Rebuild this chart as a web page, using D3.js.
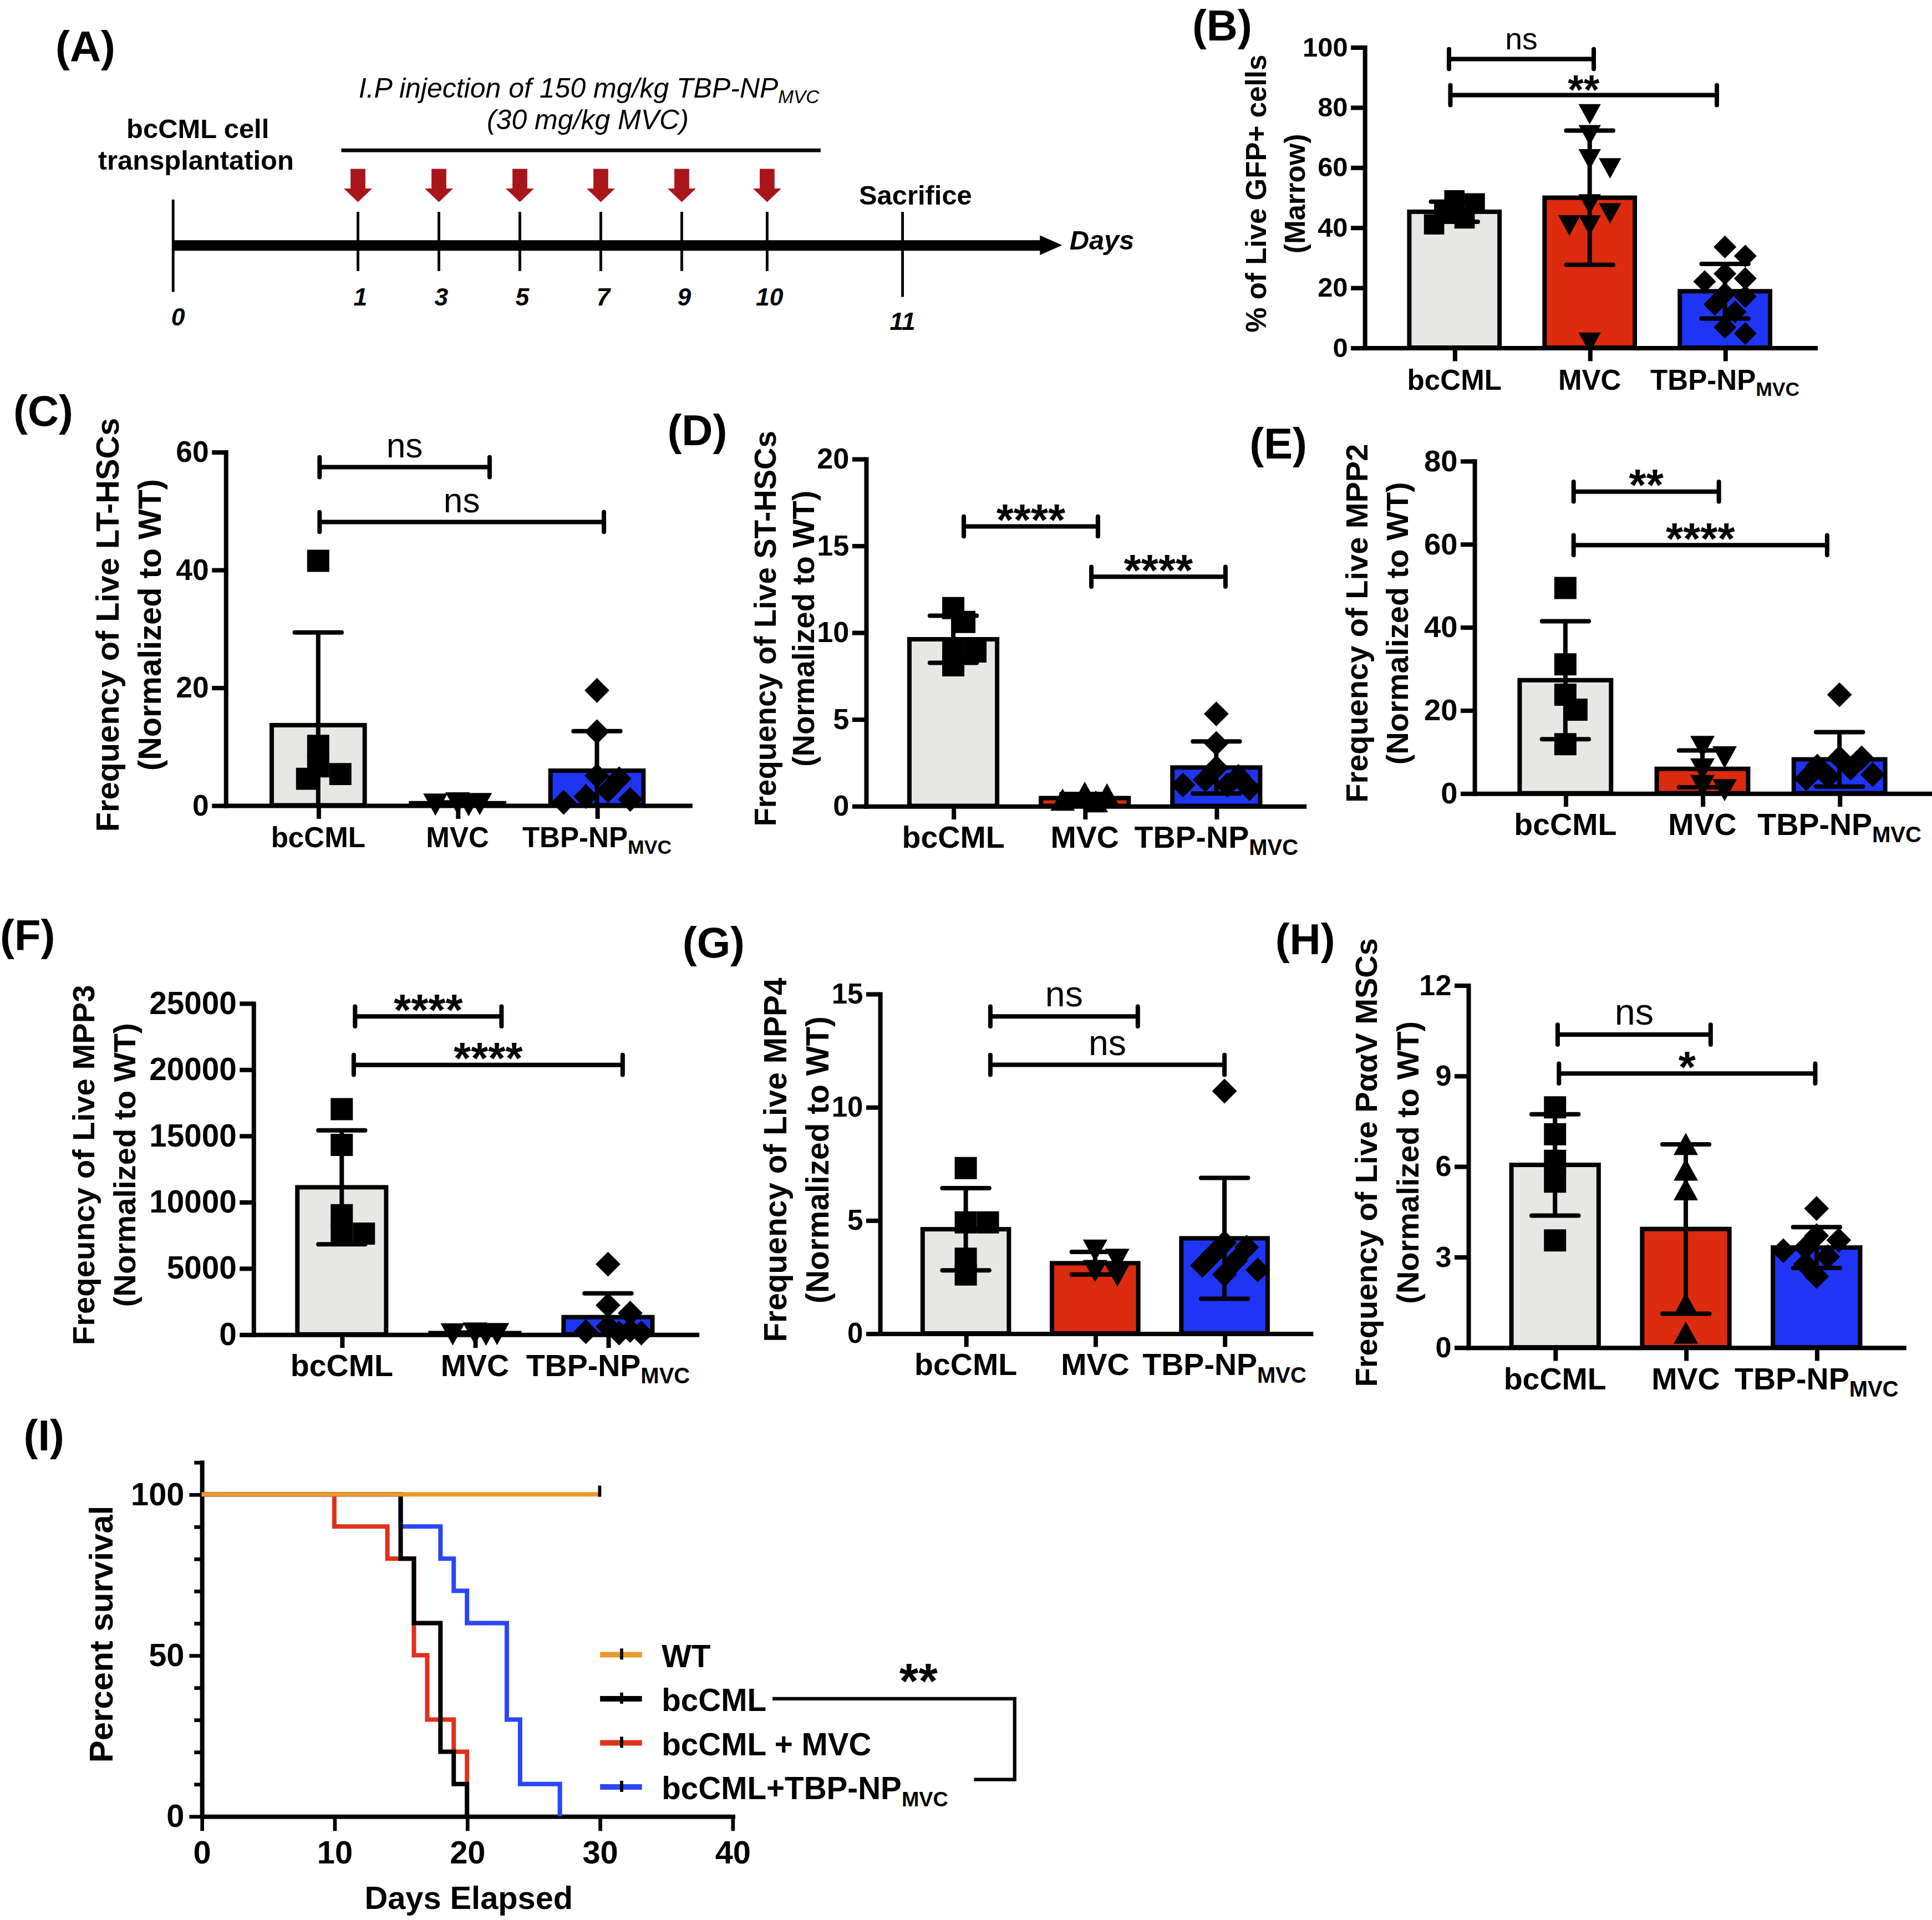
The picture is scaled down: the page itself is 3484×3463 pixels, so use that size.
<!DOCTYPE html>
<html>
<head>
<meta charset="utf-8">
<script src="https://d3js.org/d3.v7.min.js"></script>
<style>
  body { margin: 0; background: #fff; }
  svg text { font-family: "Liberation Sans", Arial, Helvetica, sans-serif; }
</style>
</head>
<body>
<svg id="fig"></svg>
<script>
'use strict';

// ---------- data ----------
var groups = ['bcCML', 'MVC', 'TBP-NP'];

var gfpMarrow = [[49, 48, 45, 43, 41], [78, 71, 63, 60, 48, 45, 41, 41, 2], [33.5, 30.5, 24.6, 23, 22, 18, 17, 14.4, 11.9, 6.8, 4.7]];
var ltHsc = [[41.5, 10.1, 6.6, 5.3, 4.5], [0.5, 0.3, 0.4, 0.2], [19.5, 12.5, 5, 4.5, 2.5, 1.5, 1, 0.5]];
var stHsc = [[11.4, 10.6, 9.0, 8.9, 8.1], [0.7, 0.6, 0.3, 0.2], [5.3, 3.6, 2.2, 1.7, 1.5, 1.2, 1.2, 1.0]];
var mpp2 = [[49.4, 31, 23.7, 20.1, 11.8], [11.4, 8.9, 6, 2, 1], [23.7, 8.5, 8.5, 6.5, 6, 4.5, 4, 3.5]];
var mpp3 = [[17000, 14300, 9000, 7600, 7600], [150, 100, 80, 50], [5300, 2200, 1600, 600, 300, 200, 100, 100]];
var mpp4 = [[7.3, 4.9, 4.9, 3.3, 2.6], [3.7, 3.3, 2.8, 2.6], [10.7, 4, 3.8, 3.5, 3.2, 3, 2.8, 2.6]];
var pavMsc = [[7.95, 7.06, 6.18, 5.49, 3.54], [6.7, 5.85, 5.2, 1.4, 0.45], [4.6, 3.7, 3.55, 3.3, 3.2, 3.0, 2.75, 2.35]];

var gfpTicks = [0, 20, 40, 60, 80, 100];
var ltTicks = [0, 20, 40, 60];
var stTicks = [0, 5, 10, 15, 20];
var mpp2Ticks = [0, 20, 40, 60, 80];
var mpp3Ticks = [0, 5000, 10000, 15000, 20000, 25000];
var mpp4Ticks = [0, 5, 10, 15];
var pavTicks = [0, 3, 6, 9, 12];

// significance brackets: group positions (index units) and height (data units)
var gfpSig = [{from: -0.04, to: 1.03, at: 96, label: 'ns'}, {from: -0.03, to: 1.94, at: 84, label: '**'}];
var ltSig = [{from: 0.01, to: 1.23, at: 57.4, label: 'ns'}, {from: 0.01, to: 2.05, at: 48.1, label: 'ns'}];
var stSig = [{from: 0.08, to: 1.1, at: 16.1, label: '****'}, {from: 1.05, to: 2.07, at: 13.2, label: '****'}];
var mpp2Sig = [{from: 0.06, to: 1.12, at: 72.6, label: '**'}, {from: 0.06, to: 1.91, at: 59.7, label: '****'}];
var mpp3Sig = [{from: 0.1, to: 1.2, at: 24000, label: '****'}, {from: 0.09, to: 2.11, at: 20340, label: '****'}];
var mpp4Sig = [{from: 0.19, to: 1.33, at: 14.0, label: 'ns'}, {from: 0.19, to: 2.0, at: 11.86, label: 'ns'}];
var pavSig = [{from: 0.02, to: 1.19, at: 10.36, label: 'ns'}, {from: 0.03, to: 1.99, at: 9.07, label: '*'}];

// survival (Kaplan-Meier steps)
var survGroups = ['WT', 'bcCML', 'bcCML + MVC', 'bcCML+TBP-NP'];
var wtDays = [0, 30], wtPct = [100, 100];
var bcDays = [0, 15, 16, 18, 19, 20], bcPct = [100, 80, 60, 20, 10, 0];
var mvcDays = [0, 10, 14, 16, 17, 19, 20], mvcPct = [100, 90, 80, 50, 30, 20, 0];
var tbpDays = [0, 15, 18, 19, 20, 23, 24, 27], tbpPct = [100, 90, 80, 70, 60, 30, 10, 0];
var survXTicks = [0, 10, 20, 30, 40];
var survYTicks = [0, 10, 20, 30, 40, 50, 60, 70, 80, 90, 100, 110];
var survYLabels = [0, 50, 100];

// timeline
var timelineDays = [0, 1, 3, 5, 7, 9, 10, 11];
var injectionDays = [1, 3, 5, 7, 9, 10];

// ---------- styles ----------
var barFill = ['#e7e7e5', '#dc2b0e', '#1f35f5'];
var survColor = ['#e99a2c', '#000000', '#e0311c', '#2b46f7'];
var arrowRed = '#a8161b';
var LW = 3.6;

var svg = d3.select('#fig')
    .attr('width', 3484)
    .attr('height', 3463)
    .attr('viewBox', '0 0 1568 1558.6');

function panelLabel(txt, x, y) {
  svg.append('text').attr('x', x).attr('y', y)
      .style('font-size', '35px').style('font-weight', 'bold')
      .text('(' + txt + ')');
}

function groupLabel(sel, name, subSize) {
  if (name === 'TBP-NP' || name === 'bcCML+TBP-NP') {
    sel.append('tspan').text(name);
    sel.append('tspan').attr('dy', '0.33em').style('font-size', subSize + 'px').text('MVC');
  } else {
    sel.text(name);
  }
}

function markerPath(kind, s) {
  var h = s / 2;
  if (kind === 'square') return 'M' + (-h) + ',' + (-h) + 'h' + s + 'v' + s + 'h' + (-s) + 'Z';
  if (kind === 'down') return 'M' + (-s * 0.55) + ',' + (-s * 0.45) + 'L' + (s * 0.55) + ',' + (-s * 0.45) + 'L0,' + (s * 0.55) + 'Z';
  if (kind === 'up') return 'M' + (-s * 0.55) + ',' + (s * 0.45) + 'L' + (s * 0.55) + ',' + (s * 0.45) + 'L0,' + (-s * 0.55) + 'Z';
  return 'M0,' + (-s * 0.56) + 'L' + (s * 0.56) + ',0L0,' + (s * 0.56) + 'L' + (-s * 0.56) + ',0Z';
}

// spread points sideways like a scatter-dot plot, kept inside the bar
function swarm(vals, y, cx, size, maxOff) {
  var order = vals.slice().sort(function(a, b) { return b - a; });
  var cands = [0];
  for (var k = 1; k * size * 0.5 <= maxOff; k++) cands.push(k * size * 0.5, -k * size * 0.5);
  var placed = [];
  order.forEach(function(v) {
    var py = y(v), best = null, bestD = -1;
    for (var i = 0; i < cands.length; i++) {
      var ox = cx + cands[i];
      var dmin = d3.min(placed, function(p) { return Math.hypot(p.x - ox, p.y - py); });
      if (dmin === undefined) dmin = Infinity;
      if (dmin >= size * 0.7) { best = ox; break; }
      if (dmin > bestD) { bestD = dmin; best = ox; }
    }
    placed.push({x: best, y: py});
  });
  return placed;
}

function drawBars(p) {
  var g = svg.append('g');
  var x = d3.scalePoint().domain(groups).range([p.x0, p.x1]).padding(0.665);
  var y = d3.scaleLinear().domain([0, p.ticks[p.ticks.length - 1]]).range([p.yBot, p.yTop]);
  var step = x.step(), bw = step * 0.667;

  var stats = p.values.map(function(v, i) {
    return {name: groups[i], mean: d3.mean(v), sd: d3.deviation(v), vals: v, i: i};
  });

  g.selectAll('rect.bar').data(stats).enter().append('rect')
      .attr('x', function(d) { return x(d.name) - bw / 2; })
      .attr('y', function(d) { return y(d.mean); })
      .attr('width', bw)
      .attr('height', function(d) { return y(0) - y(d.mean); })
      .attr('fill', function(d) { return barFill[d.i]; })
      .attr('stroke', '#000').attr('stroke-width', LW);

  // axes
  var ya = g.append('g').attr('transform', 'translate(' + p.x0 + ',0)')
      .call(d3.axisLeft(y).tickValues(p.ticks).tickSize(11).tickSizeOuter(0).tickPadding(2.5)
          .tickFormat(d3.format('d')));
  ya.attr('font-size', null).attr('font-family', null);
  ya.selectAll('.tick text').style('font-size', p.tickFont + 'px').style('font-weight', 'bold');
  var xa = g.append('g').attr('transform', 'translate(0,' + p.yBot + ')')
      .call(d3.axisBottom(x).tickSize(11).tickSizeOuter(0).tickFormat(''));
  [ya, xa].forEach(function(a) {
    a.select('.domain').attr('stroke-width', LW).attr('stroke-linecap', 'square');
    a.selectAll('.tick line').attr('stroke-width', LW);
  });

  stats.forEach(function(d) {
    var cx = x(d.name);
    var lo = d.mean - d.sd, hi = d.mean + d.sd;
    g.append('line').attr('x1', cx).attr('x2', cx)
        .attr('y1', y(Math.max(lo, 0))).attr('y2', y(hi))
        .attr('stroke', '#000').attr('stroke-width', LW);
    g.append('line').attr('x1', cx - 19).attr('x2', cx + 19)
        .attr('y1', y(hi)).attr('y2', y(hi))
        .attr('stroke', '#000').attr('stroke-width', LW).attr('stroke-linecap', 'round');
    if (lo > 0) {
      g.append('line').attr('x1', cx - 19).attr('x2', cx + 19)
          .attr('y1', y(lo)).attr('y2', y(lo))
          .attr('stroke', '#000').attr('stroke-width', LW).attr('stroke-linecap', 'round');
    }
    g.selectAll(null).data(swarm(d.vals, y, cx, p.ms, bw / 2 - p.ms * 0.35)).enter().append('path')
        .attr('transform', function(q) { return 'translate(' + q.x + ',' + q.y + ')'; })
        .attr('d', markerPath(p.shapes[d.i], p.ms))
        .attr('fill', '#000');
  });

  // group labels
  groups.forEach(function(name) {
    var t = g.append('text').attr('x', x(name)).attr('y', p.yBot + 34)
        .attr('text-anchor', 'middle')
        .style('font-size', p.catFont + 'px').style('font-weight', 'bold');
    groupLabel(t, name, Math.round(p.catFont * 0.7));
  });

  // significance brackets
  var first = x(groups[0]);
  p.sig.forEach(function(s) {
    var xa0 = first + s.from * step, xb = first + s.to * step, yy = y(s.at);
    g.append('path')
        .attr('d', 'M' + xa0 + ',' + (yy - 8) + 'V' + (yy + 8) + 'M' + xa0 + ',' + yy + 'H' + xb +
            'M' + xb + ',' + (yy - 8) + 'V' + (yy + 8))
        .attr('fill', 'none').attr('stroke', '#000').attr('stroke-width', LW).attr('stroke-linecap', 'round');
    var isNs = s.label === 'ns';
    g.append('text').attr('x', (xa0 + xb) / 2).attr('y', isNs ? yy - 8 : yy + 7)
        .attr('text-anchor', 'middle')
        .style('font-size', (isNs ? p.nsFont : p.starFont) + 'px')
        .style('font-weight', isNs ? 'normal' : 'bold')
        .text(s.label);
  });

  // y title
  var ty = (p.yTop + p.yBot) / 2 - 3;
  p.title.forEach(function(line, i) {
    g.append('text')
        .attr('transform', 'translate(' + p.titleX[i] + ',' + ty + ') rotate(-90)')
        .attr('dy', '0.36em')
        .attr('text-anchor', 'middle')
        .style('font-size', p.titleFont + 'px').style('font-weight', 'bold')
        .text(line);
  });

  panelLabel(p.id, p.label[0], p.label[1]);
}

// ---------- panel layouts ----------
var norm = '(Normalized to WT)';
var barPanels = [
  {id: 'B', values: gfpMarrow, ticks: gfpTicks, sig: gfpSig, shapes: ['square', 'down', 'diamond'],
   x0: 1107.4, x1: 1473, yTop: 38.2, yBot: 282.2, title: ['% of Live GFP+ cells', '(Marrow)'],
   titleX: [1019.3, 1050.7], titleFont: 23, tickFont: 22, catFont: 23, nsFont: 25, starFont: 33, ms: 16.5,
   label: [967.6, 33]},
  {id: 'C', values: ltHsc, ticks: ltTicks, sig: ltSig, shapes: ['square', 'down', 'diamond'],
   x0: 183, x1: 559.7, yTop: 366.8, yBot: 653.7, title: ['Frequency of Live  LT-HSCs', norm],
   titleX: [87, 121], titleFont: 26, tickFont: 24, catFont: 23, nsFont: 28, starFont: 36, ms: 18,
   label: [10.8, 345.5]},
  {id: 'D', values: stHsc, ticks: stTicks, sig: stSig, shapes: ['square', 'up', 'diamond'],
   x0: 702.7, x1: 1058.1, yTop: 372.4, yBot: 654.2, title: ['Frequency of Live ST-HSCs', norm],
   titleX: [620.6, 651.8], titleFont: 24.6, tickFont: 23.5, catFont: 25, nsFont: 28, starFont: 36, ms: 18,
   label: [541.6, 361.4]},
  {id: 'E', values: mpp2, ticks: mpp2Ticks, sig: mpp2Sig, shapes: ['square', 'down', 'diamond'],
   x0: 1196.5, x1: 1566.9, yTop: 374.1, yBot: 643.9, title: ['Frequency of Live MPP2', norm],
   titleX: [1100.7, 1133.8], titleFont: 25.2, tickFont: 24.5, catFont: 25, nsFont: 28, starFont: 36, ms: 18,
   label: [1014.1, 372.4]},
  {id: 'F', values: mpp3, ticks: mpp3Ticks, sig: mpp3Sig, shapes: ['square', 'down', 'diamond'],
   x0: 205.5, x1: 565.3, yTop: 814.3, yBot: 1083.2, title: ['Freqeuncy of Live MPP3', norm],
   titleX: [67.2, 100.7], titleFont: 25.3, tickFont: 25.5, catFont: 25, nsFont: 28, starFont: 36, ms: 18,
   label: [0, 771.6]},
  {id: 'G', values: mpp4, ticks: mpp4Ticks, sig: mpp4Sig, shapes: ['square', 'down', 'diamond'],
   x0: 714, x1: 1063.6, yTop: 806.7, yBot: 1082.4, title: ['Frequency of Live MPP4', norm],
   titleX: [628.8, 663.2], titleFont: 25.6, tickFont: 23, catFont: 25, nsFont: 29, starFont: 36, ms: 18,
   label: [553.9, 777.2]},
  {id: 'H', values: pavMsc, ticks: pavTicks, sig: pavSig, shapes: ['square', 'up', 'diamond'],
   x0: 1191.5, x1: 1544.9, yTop: 799.7, yBot: 1093.7, title: ['Frequency of Live P\u03b1\u03b1V MSCs', norm],
   titleX: [1108.2, 1142.2], titleFont: 25.2, tickFont: 23.5, catFont: 25, nsFont: 30, starFont: 36, ms: 18,
   label: [1035, 774.4]}
];
barPanels.forEach(drawBars);

// ---------- panel A: timeline ----------
(function() {
  var g = svg.append('g');
  var dayX = d3.scaleLinear().domain([0, 1, 9, 10, 11]).range([140.5, 290.5, 553.3, 622.6, 732.5]);
  var x0 = dayX(0);

  g.append('path')
      .attr('d', 'M' + x0 + ',195H844V191L862,199L844,207V203.5H' + x0 + 'Z')
      .attr('fill', '#000');

  timelineDays.forEach(function(d) {
    var top = d === 0 ? 162 : 172;
    var bot = d === 0 ? 237 : (d === 11 ? 241 : 220);
    g.append('line').attr('x1', dayX(d)).attr('x2', dayX(d)).attr('y1', top).attr('y2', bot)
        .attr('stroke', '#000').attr('stroke-width', 2.2);
    g.append('text')
        .attr('x', dayX(d) + (d === 0 ? 4 : (d === 11 ? 0 : 2)))
        .attr('y', d === 0 ? 264 : (d === 11 ? 268 : 248))
        .attr('text-anchor', 'middle')
        .style('font-size', '20px').style('font-weight', 'bold').style('font-style', 'italic')
        .text(d);
  });

  injectionDays.forEach(function(d) {
    var cx = dayX(d);
    g.append('path')
        .attr('d', 'M' + (cx - 6) + ',137V153H' + (cx - 11.5) + 'L' + cx + ',164L' + (cx + 11.5) + ',153H' + (cx + 6) + 'V137Z')
        .attr('fill', arrowRed);
  });

  g.append('line').attr('x1', 277).attr('x2', 666).attr('y1', 122).attr('y2', 122)
      .attr('stroke', '#000').attr('stroke-width', 3);

  var t1 = g.append('text').attr('x', 478).attr('y', 79.3).attr('text-anchor', 'middle')
      .style('font-size', '22.5px').style('font-style', 'italic');
  t1.append('tspan').text('I.P injection of 150 mg/kg TBP-NP');
  t1.append('tspan').attr('dy', '0.3em').style('font-size', '15px').text('MVC');
  g.append('text').attr('x', 477).attr('y', 105).attr('text-anchor', 'middle')
      .style('font-size', '22.5px').style('font-style', 'italic').text('(30 mg/kg MVC)');

  g.append('text').attr('x', 160.5).attr('y', 112).attr('text-anchor', 'middle')
      .style('font-size', '22px').style('font-weight', 'bold').text('bcCML cell');
  g.append('text').attr('x', 159).attr('y', 137.7).attr('text-anchor', 'middle')
      .style('font-size', '22px').style('font-weight', 'bold').text('transplantation');
  g.append('text').attr('x', 743).attr('y', 166).attr('text-anchor', 'middle')
      .style('font-size', '22px').style('font-weight', 'bold').text('Sacrifice');
  g.append('text').attr('x', 868).attr('y', 202.5)
      .style('font-size', '22px').style('font-weight', 'bold').style('font-style', 'italic').text('Days');

  panelLabel('A', 45, 50);
})();

// ---------- panel I: survival ----------
(function() {
  var g = svg.append('g');
  var x = d3.scaleLinear().domain([0, 40]).range([163.6, 594.4]);
  var y = d3.scaleLinear().domain([0, 110]).range([1474.3, 1186.9]);

  var ya = g.append('g').attr('transform', 'translate(' + x(0) + ',0)')
      .call(d3.axisLeft(y).tickValues(survYTicks).tickSizeOuter(0).tickPadding(4)
          .tickFormat(function(v) { return survYLabels.indexOf(v) >= 0 ? v : ''; }));
  ya.selectAll('.tick line').attr('x2', function(v) { return survYLabels.indexOf(v) >= 0 ? -10 : -6; });
  ya.selectAll('.tick text').attr('x', -14);
  var xa = g.append('g').attr('transform', 'translate(0,' + y(0) + ')')
      .call(d3.axisBottom(x).tickValues(survXTicks).tickSize(12).tickSizeOuter(0).tickPadding(8));
  [ya, xa].forEach(function(a) {
    a.attr('font-size', null).attr('font-family', null);
    a.select('.domain').attr('stroke-width', LW).attr('stroke-linecap', 'square');
    a.selectAll('.tick line').attr('stroke-width', 3);
    a.selectAll('.tick text').style('font-size', '26px').style('font-weight', 'bold');
  });

  var line = d3.line()
      .x(function(d) { return x(d[0]); })
      .y(function(d) { return y(d[1]); })
      .curve(d3.curveStepAfter);
  var curves = [
    {i: 3, days: tbpDays, pct: tbpPct},
    {i: 2, days: mvcDays, pct: mvcPct},
    {i: 1, days: bcDays, pct: bcPct},
    {i: 0, days: wtDays, pct: wtPct}
  ];
  curves.forEach(function(c) {
    g.append('path')
        .datum(d3.zip(c.days, c.pct))
        .attr('d', line)
        .attr('fill', 'none')
        .attr('stroke', survColor[c.i])
        .attr('stroke-width', 3.6);
  });
  // censor mark on WT at end of follow-up
  g.append('line')
      .attr('x1', x(wtDays[1])).attr('x2', x(wtDays[1]))
      .attr('y1', y(wtPct[1]) - 7).attr('y2', y(wtPct[1]) + 2)
      .attr('stroke', '#000').attr('stroke-width', 2.6);

  // legend
  var ends = [];
  survGroups.forEach(function(name, i) {
    var ry = 1343.2 + i * 35.8;
    g.append('line').attr('x1', 487).attr('x2', 521).attr('y1', ry).attr('y2', ry)
        .attr('stroke', survColor[i]).attr('stroke-width', 4.5);
    g.append('line').attr('x1', 504.5).attr('x2', 504.5).attr('y1', ry - 5).attr('y2', ry + 4)
        .attr('stroke', '#000').attr('stroke-width', 2.6);
    var t = g.append('text').attr('x', 537).attr('y', ry + 10)
        .style('font-size', '25.5px').style('font-weight', 'bold');
    groupLabel(t, name, 17);
    var bb = t.node().getBBox();
    ends.push({end: bb.x + bb.width, ry: ry});
  });
  var bx = 823.5, top = ends[1].ry, bot = ends[3].ry - 6;
  g.append('path')
      .attr('d', 'M' + (ends[1].end + 5) + ',' + top + 'H' + bx + 'V' + bot + 'H' + (bx - 33))
      .attr('fill', 'none').attr('stroke', '#000').attr('stroke-width', 2.8);
  g.append('text').attr('x', 745.5).attr('y', top - 1).attr('text-anchor', 'middle')
      .style('font-size', '40px').style('font-weight', 'bold').text('**');

  g.append('text').attr('x', 380.4).attr('y', 1549.8).attr('text-anchor', 'middle')
      .style('font-size', '26px').style('font-weight', 'bold').text('Days Elapsed');
  g.append('text')
      .attr('transform', 'translate(81.8,1326.6) rotate(-90)')
      .attr('dy', '0.36em').attr('text-anchor', 'middle')
      .style('font-size', '27px').style('font-weight', 'bold').text('Percent survival');

  panelLabel('I', 19.1, 1177.6);
})();
</script>
</body>
</html>
